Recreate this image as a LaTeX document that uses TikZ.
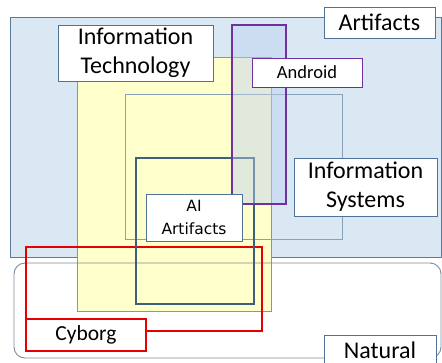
\documentclass[tikz,border=0pt]{standalone}
\usepackage{fontspec}
\setmainfont{Carlito}
\newfontfamily\aifont{DejaVu Sans}
\definecolor{artfill}{HTML}{DAE8F3}
\definecolor{artline}{HTML}{5A7A98}
\definecolor{itfill}{HTML}{FFFFCC}
\definecolor{itline}{HTML}{8497A8}
\definecolor{isline}{HTML}{8AA0B4}
\definecolor{ailine}{HTML}{3F5F7F}
\definecolor{andline}{HTML}{7030A0}
\definecolor{andfill}{HTML}{BCD0F0}
\definecolor{cybline}{HTML}{E80000}
\definecolor{natline}{HTML}{7F8C99}
\definecolor{lblline}{HTML}{4F7396}
\begin{document}
\begin{tikzpicture}[x=1pt,y=-1pt,
  lbl/.style={draw=lblline, line width=0.8pt, fill=white, inner sep=0pt, align=center,
    font=\fontsize{24}{29}\selectfont},
  thinbox/.style={line width=0.9pt},
  thickbox/.style={line width=2.8pt}]
\useasboundingbox (0,0) rectangle (442,362);
% Artifacts region
\draw[thinbox, draw=artline, fill=artfill] (10,17) rectangle (441,257);
% Information Technology region
\draw[thinbox, draw=itline, fill=itfill] (77,57) rectangle (271,311);
% Natural region
\draw[thinbox, draw=natline, rounded corners=11pt] (14,263) rectangle (441,358);
% Information Systems region
\draw[thinbox, draw=isline] (125,94) rectangle (342,239);
% Cyborg
\draw[thickbox, draw=cybline] (26,247) rectangle (262,331);
% AI artifacts
\draw[thickbox, draw=ailine] (136,158) rectangle (254,304);
% Android
\draw[thickbox, draw=andline, fill=andfill, fill opacity=0.45] (232,25) rectangle (286,204);
% labels
\node[lbl, minimum width=155pt, minimum height=56pt] (it) at (135.5,53) {Information\\Technology};
\node[lbl, minimum width=111pt, minimum height=31pt] (art) at (379.5,22.5) {Artifacts};
\node[lbl, draw=andline, minimum width=110pt, minimum height=29pt,
  font=\fontsize{18.5}{22}\selectfont] (and) at (307,72.5) {Android};
\node[lbl, minimum width=143pt, minimum height=58pt] (is) at (365.5,187) {Information\\Systems};
\node[lbl, minimum width=96pt, minimum height=47pt,
  font=\aifont\fontsize{15.5}{23}\selectfont] (ai) at (194,217.5) {AI\\Artifacts};
\node[lbl, draw=cybline, line width=1.6pt, minimum width=120pt, minimum height=32pt,
  font=\fontsize{21.5}{26}\selectfont] (cyb) at (86,335) {Cyborg};
\node[lbl, minimum width=112pt, minimum height=30pt] (nat) at (380,350) {Natural};
\end{tikzpicture}
\end{document}
